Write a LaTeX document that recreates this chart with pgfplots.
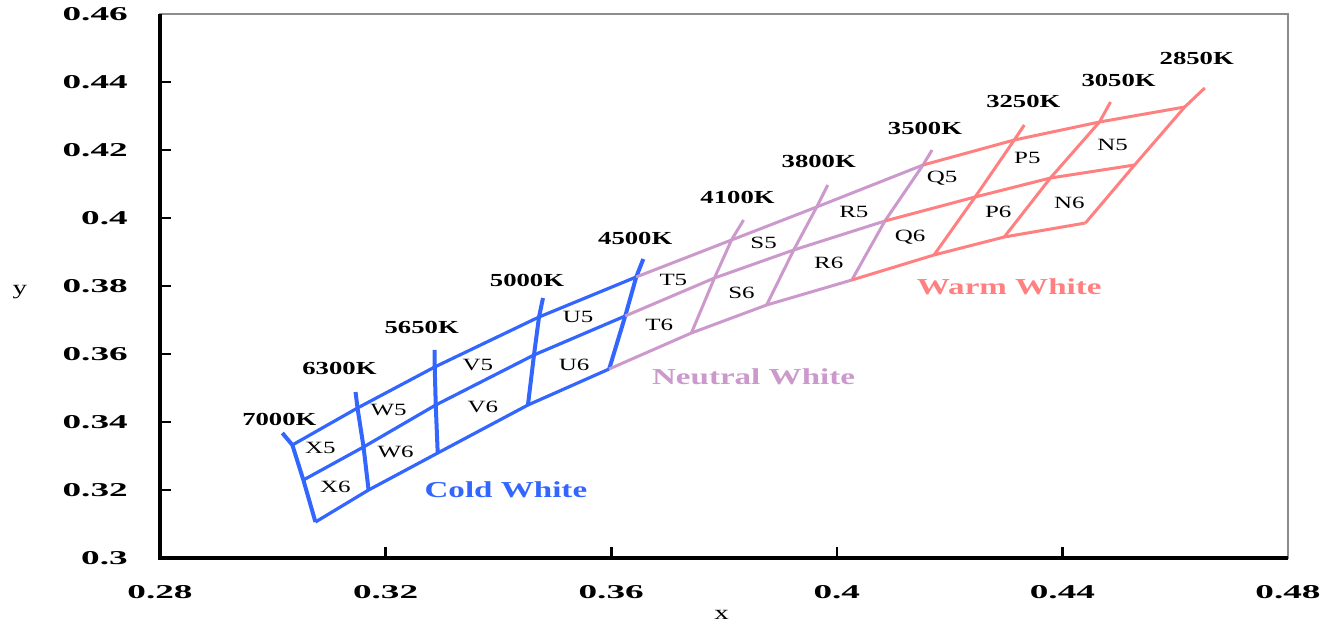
\documentclass[border=0pt]{standalone}
\usepackage{fontspec}
\setmainfont{Liberation Serif}[FakeStretch=1.45]
\newfontfamily\tickfont{Liberation Serif}[FakeStretch=1.9]
\usepackage{pgfplots}
\pgfplotsset{compat=1.18}
\definecolor{cold}{RGB}{51,102,255}
\definecolor{neut}{RGB}{204,153,204}
\definecolor{warm}{RGB}{255,128,128}
\definecolor{framegray}{RGB}{140,140,140}
\begin{document}
\begin{tikzpicture}
\begin{axis}[name=ax, at={(0,0)}, anchor=south west, scale only axis,
  width=564bp, height=272bp,
  xmin=0.28, xmax=0.48, ymin=0.3, ymax=0.46,
  xtick={0.28,0.32,0.36,0.40,0.44,0.48},
  ytick={0.30,0.32,0.34,0.36,0.38,0.40,0.42,0.44,0.46},
  /pgf/number format/fixed, /pgf/number format/precision=2,
  /pgf/number format/assume math mode=true,
  axis line style={draw=framegray, line width=1.1bp},
  tick align=inside, xtick pos=left, ytick pos=left,
  major tick length=5.5bp,
  tick style={black, line width=1.3bp},
  ticklabel style={font=\tickfont\bfseries\fontsize{9.8bp}{10bp}\selectfont},
  yticklabel style={xshift=-12.6bp},
  xticklabel style={yshift=-10.3bp},
  xlabel={x}, ylabel={y},
  label style={font=\fontsize{10bp}{11bp}\selectfont},
  xlabel style={at={(axis description cs:0.498,0)}, anchor=center, yshift=-28.5bp},
  ylabel style={rotate=-90, at={(axis description cs:0,0.5)}, anchor=center, xshift=-70bp, yshift=-3bp},
  clip=false,
  after end axis/.code={
    \draw[black, line width=2bp] (rel axis cs:1,0) -- (rel axis cs:0,0) -- (rel axis cs:0,1);
  },
]

% ---- Cold White (blue) ----
% CCT lines
\addplot[cold, line width=2bp] coordinates {(0.30169,0.33676) (0.30347,0.33324) (0.30542,0.32294) (0.30756,0.31059)};
\addplot[cold, line width=2bp] coordinates {(0.31467,0.34882) (0.31502,0.34412) (0.31609,0.33265) (0.31698,0.32000)};
\addplot[cold, line width=2bp] coordinates {(0.32871,0.36118) (0.32871,0.35618) (0.32889,0.34500) (0.32924,0.33088)};
\addplot[cold, line width=2bp] coordinates {(0.34791,0.37647) (0.34720,0.37088) (0.34631,0.35971) (0.34524,0.34500)};
\addplot[cold, line width=2bp] coordinates {(0.36569,0.38794) (0.36444,0.38265) (0.36249,0.37118) (0.35964,0.35559)};
% rows
\addplot[cold, line width=1.6bp] coordinates {(0.30347,0.33324) (0.31502,0.34412) (0.32871,0.35618) (0.34720,0.37088) (0.36444,0.38265)};
\addplot[cold, line width=1.6bp] coordinates {(0.30542,0.32294) (0.31609,0.33265) (0.32889,0.34500) (0.34631,0.35971) (0.36249,0.37118)};
\addplot[cold, line width=1.6bp] coordinates {(0.30756,0.31059) (0.31698,0.32000) (0.32924,0.33088) (0.34524,0.34500) (0.35964,0.35559)};

% ---- Neutral White (purple) ----
\addplot[neut, line width=1.5bp] coordinates {(0.38347,0.39941) (0.38133,0.39353) (0.37831,0.38235) (0.37422,0.36618)};
\addplot[neut, line width=1.5bp] coordinates {(0.39840,0.40970) (0.39644,0.40324) (0.39236,0.39059) (0.38756,0.37441)};
\addplot[neut, line width=1.5bp] coordinates {(0.41689,0.42000) (0.41529,0.41559) (0.40853,0.39912) (0.40267,0.38176)};
\addplot[neut, line width=1.5bp] coordinates {(0.36444,0.38265) (0.38133,0.39353) (0.39644,0.40324) (0.41529,0.41559)};
\addplot[neut, line width=1.5bp] coordinates {(0.36249,0.37118) (0.37831,0.38235) (0.39236,0.39059) (0.40853,0.39912)};
\addplot[neut, line width=1.5bp] coordinates {(0.35964,0.35559) (0.37422,0.36618) (0.38756,0.37441) (0.40267,0.38176)};

% ---- Warm White (pink) ----
\addplot[warm, line width=1.5bp] coordinates {(0.43324,0.42735) (0.43147,0.42294) (0.42453,0.40618) (0.41724,0.38912)};
\addplot[warm, line width=1.5bp] coordinates {(0.44853,0.43412) (0.44658,0.42824) (0.43787,0.41176) (0.42969,0.39441)};
\addplot[warm, line width=1.5bp] coordinates {(0.46524,0.43824) (0.46169,0.43265) (0.45280,0.41559) (0.44409,0.39853)};
\addplot[warm, line width=1.5bp] coordinates {(0.41529,0.41559) (0.43147,0.42294) (0.44658,0.42824) (0.46169,0.43265)};
\addplot[warm, line width=1.5bp] coordinates {(0.40853,0.39912) (0.42453,0.40618) (0.43787,0.41176) (0.45280,0.41559)};
\addplot[warm, line width=1.5bp] coordinates {(0.40267,0.38176) (0.41724,0.38912) (0.42969,0.39441) (0.44409,0.39853)};

% CCT labels
\begin{scope}[every node/.style={font=\bfseries\fontsize{9.2bp}{10bp}\selectfont, inner sep=0pt}]
\node at (axis cs:0.30116,0.34088) {7000K};
\node at (axis cs:0.31182,0.35588) {6300K};
\node at (axis cs:0.32640,0.36794) {5650K};
\node at (axis cs:0.34507,0.38176) {5000K};
\node at (axis cs:0.36427,0.39412) {4500K};
\node at (axis cs:0.38240,0.40618) {4100K};
\node at (axis cs:0.39680,0.41676) {3800K};
\node at (axis cs:0.41564,0.42647) {3500K};
\node at (axis cs:0.43307,0.43441) {3250K};
\node at (axis cs:0.44996,0.44059) {3050K};
\node at (axis cs:0.46382,0.44706) {2850K};
\end{scope}
% cell labels
\begin{scope}[every node/.style={font=\fontsize{8.6bp}{9bp}\selectfont, inner sep=0pt}]
\node at (axis cs:0.30844,0.33235) {X5};
\node at (axis cs:0.31111,0.32088) {X6};
\node at (axis cs:0.32053,0.34353) {W5};
\node at (axis cs:0.32178,0.33118) {W6};
\node at (axis cs:0.33636,0.35676) {V5};
\node at (axis cs:0.33724,0.34441) {V6};
\node at (axis cs:0.35413,0.37088) {U5};
\node at (axis cs:0.35342,0.35676) {U6};
\node at (axis cs:0.37102,0.38176) {T5};
\node at (axis cs:0.36853,0.36853) {T6};
\node at (axis cs:0.38702,0.39265) {S5};
\node at (axis cs:0.38311,0.37794) {S6};
\node at (axis cs:0.40302,0.40176) {R5};
\node at (axis cs:0.39858,0.38676) {R6};
\node at (axis cs:0.41867,0.41176) {Q5};
\node at (axis cs:0.41298,0.39441) {Q6};
\node at (axis cs:0.43378,0.41765) {P5};
\node at (axis cs:0.42862,0.40176) {P6};
\node at (axis cs:0.44889,0.42147) {N5};
\node at (axis cs:0.44124,0.40441) {N6};
\end{scope}
% group labels
\begin{scope}[every node/.style={font=\bfseries\fontsize{11.4bp}{12bp}\selectfont, inner sep=0pt}]
\node[text=cold] at (axis cs:0.34133,0.32000) {Cold White};
\node[text=neut] at (axis cs:0.38524,0.35324) {Neutral White};
\node[text=warm] at (axis cs:0.43058,0.37971) {Warm White};
\end{scope}
\end{axis}
\pgfresetboundingbox
\useasboundingbox ([xshift=-80bp,yshift=-35.5bp]ax.south west) rectangle ([xshift=22.5bp,yshift=7bp]ax.north east);
\end{tikzpicture}
\end{document}
